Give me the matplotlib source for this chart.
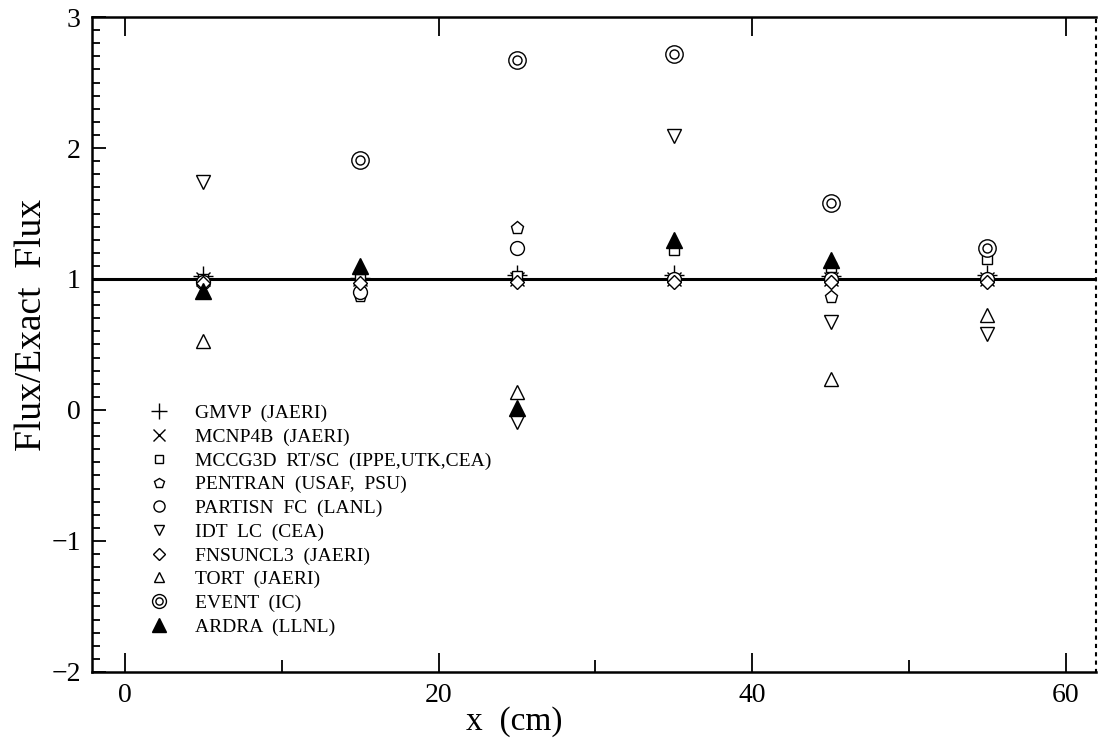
import matplotlib
matplotlib.use("Agg")
import matplotlib.pyplot as plt
from matplotlib.legend_handler import HandlerTuple
from matplotlib.ticker import MultipleLocator

plt.rcParams['font.family'] = ['Liberation Serif', 'DejaVu Serif']

nan = float('nan')
x_cm = [5, 15, 25, 35, 45, 55]
gmvp = [1.02, 1.01, 1.03, 1.03, 1.02, 1.03]
mcnp4b = [1.00, 1.00, 1.00, 1.00, 1.00, 1.00]
mccg3d = [1.00, 1.00, 1.02, 1.22, 1.09, 1.15]
pentran = [0.98, 0.87, 1.39, 1.00, 0.865, 1.00]
partisn = [0.98, 0.90, 1.24, 1.00, 1.00, 1.00]
idt_lc = [1.74, nan, -0.09, 2.09, 0.67, 0.58]
fnsuncl3 = [0.97, 0.97, 0.98, 0.98, 0.98, 0.98]
tort = [0.53, nan, 0.14, nan, 0.235, 0.725]
event = [nan, 1.91, 2.67, 2.72, 1.58, 1.24]
ardra = [0.91, 1.10, 0.015, 1.30, 1.145, nan]

labels = ["GMVP  (JAERI)", "MCNP4B  (JAERI)", "MCCG3D  RT/SC  (IPPE,UTK,CEA)",
          "PENTRAN  (USAF,  PSU)", "PARTISN  FC  (LANL)", "IDT  LC  (CEA)",
          "FNSUNCL3  (JAERI)", "TORT  (JAERI)", "EVENT  (IC)", "ARDRA  (LLNL)"]

fig = plt.figure(figsize=(10.98, 7.43), dpi=100)
ax = fig.add_axes([0.0838, 0.0956, 0.914, 0.8815])

ax.axhline(1.0, color='black', lw=2.2, zorder=1)

common = dict(linestyle='none', color='black', markerfacecolor='white',
              markeredgecolor='black', markeredgewidth=1.0, zorder=3)

h_gmvp, = ax.plot(x_cm, gmvp, marker='+', markersize=15, **common)
h_mcnp, = ax.plot(x_cm, mcnp4b, marker='x', markersize=10, **common)
h_mccg, = ax.plot(x_cm, mccg3d, marker='s', markersize=7.5, **common)
h_pent, = ax.plot(x_cm, pentran, marker='p', markersize=9.5, **common)
h_part, = ax.plot(x_cm, partisn, marker='o', markersize=10, **common)
h_idt, = ax.plot(x_cm, idt_lc, marker='v', markersize=9.5, **common)
h_fns, = ax.plot(x_cm, fnsuncl3, marker='D', markersize=7.5, **common)
h_tort, = ax.plot(x_cm, tort, marker='^', markersize=9.5, **common)
h_ev1, = ax.plot(x_cm, event, marker='o', markersize=12.5, **common)
h_ev2, = ax.plot(x_cm, event, marker='o', markersize=6.5, **common)
common_f = dict(common)
common_f['markerfacecolor'] = 'black'
h_ard, = ax.plot(x_cm, ardra, marker='^', markersize=12, **common_f)

handles = [h_gmvp, h_mcnp, h_mccg, h_pent, h_part, h_idt, h_fns, h_tort,
           (h_ev1, h_ev2), h_ard]
leg = ax.legend(handles, labels, loc='upper left', bbox_to_anchor=(0.047, 0.42),
                frameon=False, fontsize=14, handlelength=1.25, handletextpad=1.2,
                labelspacing=0.31, borderaxespad=0, markerscale=0.8,
                handler_map={tuple: HandlerTuple(ndivide=1, pad=0)})

ax.set_xlim(-2.1, 61.9)
ax.set_ylim(-2, 3)
ax.xaxis.set_major_locator(MultipleLocator(20))
ax.xaxis.set_minor_locator(MultipleLocator(10))
ax.yaxis.set_major_locator(MultipleLocator(1))
ax.yaxis.set_minor_locator(MultipleLocator(0.1))

ax.tick_params(axis='both', which='both', direction='in', width=1.3, labelsize=20)
ax.tick_params(axis='y', which='major', length=10, pad=8)
ax.tick_params(axis='y', which='minor', length=6)
ax.tick_params(axis='x', which='major', length=14, top=True, pad=8)
ax.tick_params(axis='x', which='minor', length=9, top=False)

for s in ['left', 'bottom', 'top']:
    ax.spines[s].set_linewidth(1.8)
ax.spines['right'].set_linestyle((0, (1, 3)))
ax.spines['right'].set_linewidth(1.5)

ax.set_xlabel("x  (cm)", fontsize=24)
ax.set_ylabel("Flux/Exact  Flux", fontsize=27)
ax.xaxis.set_label_coords(0.421, -0.052)
ax.yaxis.set_label_coords(-0.043, 0.53)

fig.savefig("out.png", dpi=100)
